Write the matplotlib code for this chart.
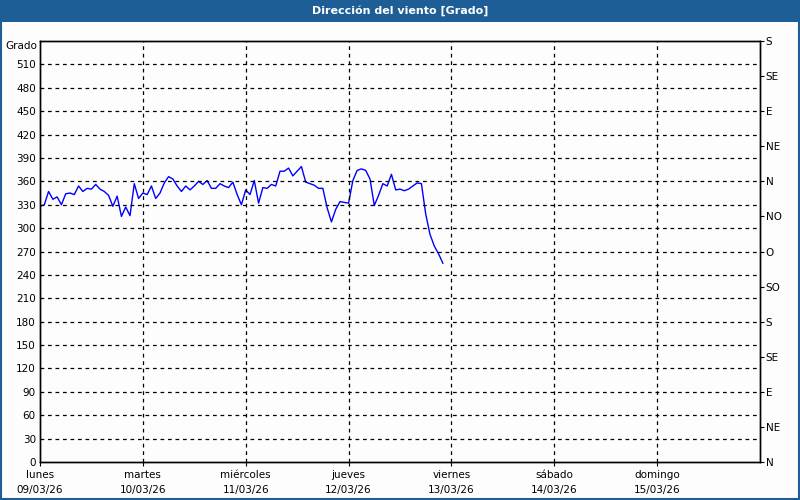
import numpy as np
import matplotlib.pyplot as plt
from matplotlib.patches import Rectangle

# hourly wind direction from 09/03/26 00:00
direction = [328, 330, 347, 337, 340, 330, 344, 345, 343, 354,
             347, 351, 350, 356, 350, 347, 342, 328, 341, 315,
             327, 316, 357, 338, 345, 343, 354, 338, 345, 358,
             366, 363, 354, 347, 354, 349, 354, 360, 356, 361,
             351, 351, 357, 354, 352, 359, 343, 330, 349, 343,
             361, 332, 352, 351, 356, 354, 373, 373, 377, 367,
             373, 379, 359, 357, 355, 351, 351, 326, 308, 324,
             334, 333, 332, 361, 374, 376, 374, 363, 329, 342,
             357, 354, 369, 349, 350, 348, 350, 354, 358, 357,
             318, 292, 277, 267, 255]
hours = np.arange(len(direction))

days = ["lunes", "martes", "miércoles", "jueves", "viernes", "sábado", "domingo"]
dates = ["09/03/26", "10/03/26", "11/03/26", "12/03/26", "13/03/26", "14/03/26", "15/03/26"]

left_ticks = list(range(0, 511, 30))
right_ticks = list(range(0, 541, 45))
right_labels = ["N", "NE", "E", "SE", "S", "SO", "O", "NO", "N", "NE", "E", "SE", "S"]

bar_color = "#1e5e96"

fig = plt.figure(figsize=(8, 5), dpi=100, facecolor="#fcfdfc")

# title bar
fig.patches.append(Rectangle((0, 0.956), 1, 0.044, transform=fig.transFigure,
                             facecolor=bar_color, edgecolor="none", zorder=0))
fig.patches.append(Rectangle((0.001, 0.002), 0.998, 0.996, transform=fig.transFigure,
                             facecolor="none", edgecolor=bar_color, lw=1.5, zorder=5))
fig.text(0.5, 0.978, "Dirección del viento [Grado]", color="white",
         fontsize=8, fontweight="bold", ha="center", va="center")

ax = fig.add_axes([0.05, 0.076, 0.9, 0.842])
ax.set_facecolor("#fcfdfc")
ax.plot(hours / 24, direction, color="#0000ff", lw=1)

ax.set_xlim(0, 7)
ax.set_ylim(0, 540)
ax.set_xticks(range(7))
ax.set_xticklabels([f"{d}\n{t}" for d, t in zip(days, dates)], fontsize=7.5,
                   linespacing=1.55)
ax.set_yticks(left_ticks)
ax.set_yticklabels([str(v) for v in left_ticks], fontsize=7.5)
ax.tick_params(axis="y", length=0, pad=3)
ax.tick_params(axis="x", length=3, pad=3)
ax.text(-0.004, 1.0, "Grado", transform=ax.transAxes, fontsize=7.5,
        ha="right", va="top")

for v in left_ticks[1:]:
    ax.axhline(v, color="black", lw=0.9, ls=(0, (3, 3)))
for d in range(1, 7):
    ax.axvline(d, color="black", lw=0.9, ls=(0, (3, 3)))

ax2 = ax.twinx()
ax2.set_ylim(0, 540)
ax2.set_yticks(right_ticks)
ax2.set_yticklabels(right_labels, fontsize=7.5)
ax2.tick_params(axis="y", length=3, pad=1)

for a in (ax, ax2):
    for s in a.spines.values():
        s.set_color("black")
        s.set_linewidth(1)

fig.savefig("out.png", dpi=100, facecolor=fig.get_facecolor())
